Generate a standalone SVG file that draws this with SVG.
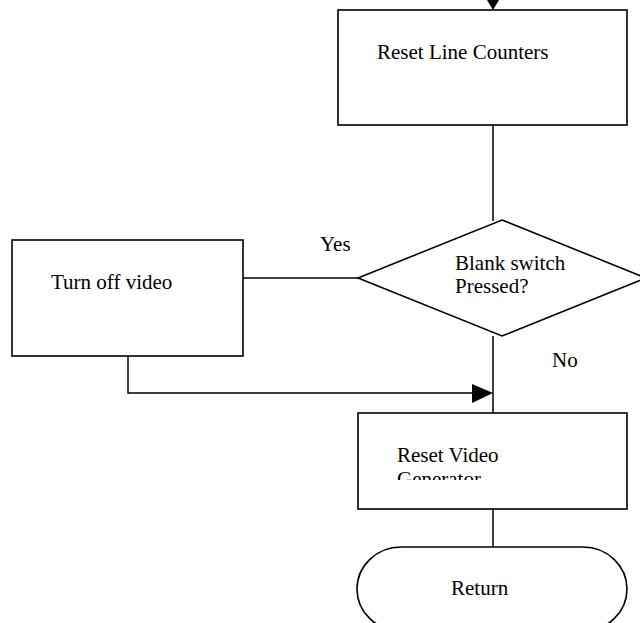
<svg xmlns="http://www.w3.org/2000/svg" width="640" height="623" viewBox="0 0 640 623">
<defs>
<style>
.n{fill:#fff;stroke:#000;stroke-width:1.6}
.c{fill:none;stroke:#000;stroke-width:1.5}
.a{fill:#000;stroke:none}
text{font-family:"Liberation Serif","Times New Roman",serif;font-size:21px;fill:#000}
</style>
<clipPath id="clipRV"><rect x="358" y="413" width="269" height="67"/></clipPath>
</defs>
<rect width="640" height="623" fill="#fff"/>
<g id="connectors">
<line class="c" x1="493" y1="0" x2="493" y2="4"/>
<polygon class="a" points="487,0 499,0 493,10"/>
<line class="c" x1="493" y1="125" x2="493" y2="221"/>
<line class="c" x1="243" y1="278" x2="358" y2="278"/>
<line class="c" x1="493" y1="336" x2="493" y2="413"/>
<polyline class="c" points="128,356 128,393 474,393"/>
<polygon class="a" points="472,384 493,393 472,403"/>
<line class="c" x1="493" y1="509" x2="493" y2="547"/>
<text x="320" y="251">Yes</text>
<text x="552" y="367">No</text>
</g>
<g id="reset-line-counters">
<rect class="n" x="338" y="10" width="289" height="115"/>
<text x="377" y="59">Reset Line Counters</text>
</g>
<g id="blank-switch">
<polygon class="n" points="502,220 646,278 502,336 358,278"/>
<text x="455" y="270">Blank switch</text>
<text x="455" y="293">Pressed?</text>
</g>
<g id="turn-off-video">
<rect class="n" x="12" y="240" width="231" height="116"/>
<text x="51" y="289">Turn off video</text>
</g>
<g id="reset-video-generator">
<rect class="n" x="358" y="413" width="269" height="96"/>
<g clip-path="url(#clipRV)">
<text x="397" y="462">Reset Video</text>
<text x="397" y="486">Generator</text>
</g>
</g>
<g id="return">
<rect class="n" x="357" y="547" width="270" height="84" rx="44" ry="42"/>
<text x="451" y="595">Return</text>
</g>
</svg>
